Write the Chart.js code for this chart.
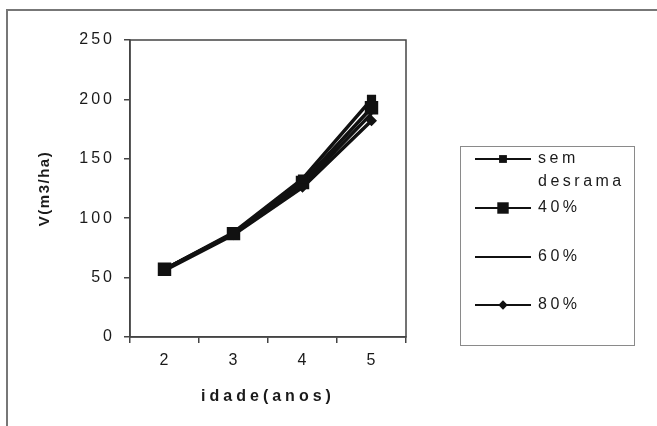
<!DOCTYPE html>
<html>
<head>
<meta charset="utf-8">
<script src="https://cdn.jsdelivr.net/npm/chart.js"></script>
<style>
    html, body { margin: 0; padding: 0; background: #fff; }
    #wrap { width: 657px; height: 426px; }
</style>
</head>
<body>
<div id="wrap"><canvas id="chart" width="657" height="426"></canvas></div>
<script>
// data
const ages = ["2", "3", "4", "5"];
const seriesNames = ["sem desrama", "40%", "60%", "80%"];
const semDesrama = [57, 88, 133, 200];
const pct40 = [57, 87, 130, 193];
const pct60 = [57, 87, 128, 188];
const pct80 = [56, 86, 126, 182];
const yTicks = [0, 50, 100, 150, 200, 250];

const ink = "#111";
const fontFamily = "'Liberation Sans', Arial, sans-serif";

// wrap a scale method so its text gets its own letter spacing
function withSpacing(scale, method, px) {
    const flag = "_sp_" + method;
    if (scale[flag]) return;
    const orig = scale[method];
    scale[method] = function (...args) {
        this.ctx.save();
        this.ctx.letterSpacing = px;
        orig.apply(this, args);
        this.ctx.restore();
    };
    scale[flag] = true;
}

function drawMarker(ctx, style, r, x, y) {
    if (!r) return;
    ctx.beginPath();
    if (style === "rect") {
        const s = Math.SQRT1_2 * r;
        ctx.rect(x - s, y - s, 2 * s, 2 * s);
    } else {
        ctx.moveTo(x, y - r);
        ctx.lineTo(x + r, y);
        ctx.lineTo(x, y + r);
        ctx.lineTo(x - r, y);
        ctx.closePath();
    }
    ctx.fill();
}

const decor = {
    id: "decor",
    beforeDraw(chart) {
        const ctx = chart.ctx;
        ctx.save();
        ctx.fillStyle = "#fff";
        ctx.fillRect(0, 0, chart.width, chart.height);
        ctx.restore();
    },
    afterDraw(chart) {
        const ctx = chart.ctx;
        const a = chart.chartArea;
        ctx.save();
        // plot box
        ctx.strokeStyle = "#444";
        ctx.lineWidth = 1.5;
        ctx.strokeRect(a.left, a.top, a.right - a.left, a.bottom - a.top);

        // outer frame (top and left only, the rest is cut off)
        ctx.strokeStyle = "#777";
        ctx.lineWidth = 2;
        ctx.beginPath();
        ctx.moveTo(7, 426);
        ctx.lineTo(7, 10);
        ctx.lineTo(657, 10);
        ctx.stroke();

        // legend box
        ctx.strokeStyle = "#8a8a8a";
        ctx.lineWidth = 1;
        ctx.strokeRect(460.5, 146.5, 174, 199);

        const rows = [159, 208, 257, 305];
        ctx.font = "16px " + fontFamily;
        ctx.letterSpacing = "3.5px";
        ctx.textBaseline = "middle";
        ctx.textAlign = "left";
        chart.data.datasets.forEach((ds, i) => {
            const y = rows[i];
            ctx.strokeStyle = ink;
            ctx.lineWidth = 2;
            ctx.beginPath();
            ctx.moveTo(475, y);
            ctx.lineTo(531, y);
            ctx.stroke();
            ctx.fillStyle = ink;
            drawMarker(ctx, ds.pointStyle, ds.pointRadius * 0.85, 503, y);
            ctx.fillStyle = "#1a1a1a";
            ds.label.split(" ").forEach((line, k) => {
                ctx.fillText(line, 538, y + k * 23);
            });
        });
        ctx.restore();
    }
};

function series(label, data, style, radius) {
    return {
        label: label,
        data: data,
        borderColor: ink,
        backgroundColor: ink,
        borderWidth: 3.5,
        pointStyle: style,
        pointRadius: radius,
        pointBorderWidth: 0,
        tension: 0,
        fill: false,
    };
}

const tickFont = { family: fontFamily, size: 16 };

new Chart(document.getElementById("chart"), {
    type: "line",
    data: {
        labels: ages,
        datasets: [
            series(seriesNames[0], semDesrama, "rect", 6.5),
            series(seriesNames[1], pct40, "rect", 9.5),
            series(seriesNames[2], pct60, "circle", 0),
            series(seriesNames[3], pct80, "rectRot", 5.5),
        ],
    },
    options: {
        responsive: false,
        animation: false,
        layout: { padding: { left: 0, top: 40, right: 251, bottom: 0 } },
        plugins: {
            legend: { display: false },
            tooltip: { enabled: false },
        },
        scales: {
            x: {
                type: "category",
                offset: true,
                grid: { offset: true, drawOnChartArea: false, tickLength: 6, color: "#444", lineWidth: 1.5 },
                border: { color: "#444", width: 1.5 },
                ticks: { font: tickFont, color: "#1a1a1a", padding: 8 },
                title: {
                    display: true,
                    text: "idade(anos)",
                    color: "#1a1a1a",
                    font: { family: fontFamily, size: 16, weight: "bold" },
                    padding: { top: 0, bottom: 20 },
                },
                afterFit(scale) {
                    scale.height = 89;
                    withSpacing(scale, "drawLabels", "1px");
                    withSpacing(scale, "drawTitle", "4px");
                },
            },
            y: {
                min: 0,
                max: 250,
                afterBuildTicks(scale) {
                    scale.ticks = yTicks.map(v => ({ value: v }));
                },
                grid: { drawOnChartArea: false, tickLength: 6, color: "#444", lineWidth: 1.5 },
                border: { color: "#444", width: 1.5 },
                ticks: { font: tickFont, color: "#1a1a1a", padding: 9 },
                title: {
                    display: true,
                    text: "V(m3/ha)",
                    color: "#1a1a1a",
                    font: { family: fontFamily, size: 15, weight: "bold" },
                    padding: { top: 36, bottom: 0 },
                },
                afterFit(scale) {
                    scale.width = 130;
                    withSpacing(scale, "drawLabels", "3px");
                    withSpacing(scale, "drawTitle", "1.5px");
                },
            },
        },
    },
    plugins: [decor],
});
</script>
</body>
</html>
